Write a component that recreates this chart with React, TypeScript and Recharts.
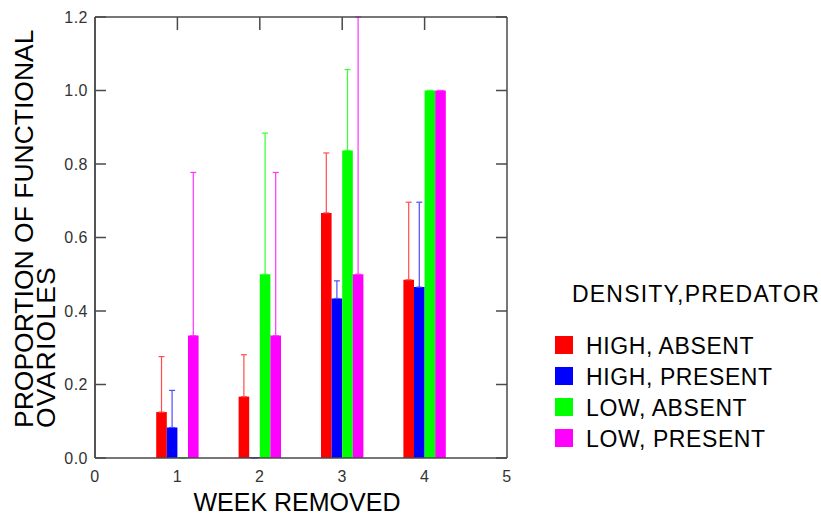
import React from 'react';
import { BarChart, Bar, XAxis, YAxis, ErrorBar, Legend, Label } from 'recharts';

// week removed
const weeks = [1, 2, 3, 4];

// proportion of functional ovarioles per treatment
const highAbsent = [0.125, 0.167, 0.667, 0.485];
const highPresent = [0.083, 0, 0.434, 0.465];
const lowAbsent = [0, 0.5, 0.837, 1.0];
const lowPresent = [0.333, 0.333, 0.5, 1.0];

// upper error (one sided, drawn above the bar)
const highAbsentErr = [0.151, 0.114, 0.163, 0.211];
const highPresentErr = [0.101, 0, 0.048, 0.231];
const lowAbsentErr = [0, 0.384, 0.22, 0];
const lowPresentErr = [0.444, 0.444, 0.7, 0];

const xTicks = [0, 1, 2, 3, 4, 5];
const xInnerTicks = [1, 2, 3, 4];
const yTicks = [0, 0.2, 0.4, 0.6, 0.8, 1.0, 1.2];

const seriesNames = ['HIGH, ABSENT', 'HIGH, PRESENT', 'LOW, ABSENT', 'LOW, PRESENT'];
const seriesColors = ['#ff0000', '#0000ff', '#00ff00', '#ff00ff'];
const errColors = ['#ff4d4d', '#4d4dff', '#33ff33', '#ff33ff'];

const rows = weeks.map((w, i) => ({
  week: w,
  ha: highAbsent[i],
  hp: highPresent[i],
  la: lowAbsent[i],
  lp: lowPresent[i],
  haErr: [0, highAbsentErr[i]],
  hpErr: [0, highPresentErr[i]],
  laErr: [0, lowAbsentErr[i]],
  lpErr: [0, lowPresentErr[i]],
}));

const keys = ['ha', 'hp', 'la', 'lp'];

const FONT = '"Liberation Sans", Arial, sans-serif';
const AXIS = '#4a4a4a';

const LegendBox = (props: any) => {
  const payload = props.payload || [];
  return (
    <svg width={273} height={190} style={{ display: 'block' }}>
      <text x={24} y={32} fontFamily={FONT} fontSize={23} letterSpacing={1.2} fill="#000">
        DENSITY,PREDATOR
      </text>
      {payload.map((p: any, i: number) => (
        <g key={i}>
          <rect x={7} y={66 + i * 31} width={18} height={18} fill={p.color} />
          <text x={38} y={83.5 + i * 31} fontFamily={FONT} fontSize={23} letterSpacing={0.6} fill="#000">
            {p.value}
          </text>
        </g>
      ))}
    </svg>
  );
};

const YTitle = () => (
  <g fontFamily={FONT} fontSize={26.5} fill="#000">
    <text x={33} y={428} transform="rotate(-90, 33, 428)">PROPORTION OF FUNCTIONAL</text>
    <text x={55} y={428} transform="rotate(-90, 55, 428)" letterSpacing={1.2}>OVARIOLES</text>
  </g>
);

const XTitle = () => (
  <text x={297} y={511} textAnchor="middle" fontFamily={FONT} fontSize={25} fill="#000">
    WEEK REMOVED
  </text>
);

const tickFont = { fill: '#333', fontSize: 16, fontFamily: FONT, letterSpacing: 0.5 };
const noLabel = () => <g />;

export default function App() {
  return (
    <div style={{ position: 'absolute', left: 0, top: 0, background: '#fff' }}>
      <BarChart
        width={821}
        height={516}
        data={rows}
        margin={{ top: 17, right: 314, bottom: 28, left: 40 }}
        barGap={0}
        barSize={10.6}
      >
        <XAxis
          dataKey="week"
          type="number"
          domain={[0, 5]}
          ticks={xTicks}
          allowDataOverflow
          height={30}
          tickLine={false}
          tickSize={0}
          tickMargin={13}
          stroke={AXIS}
          strokeWidth={1.5}
          tick={tickFont}
        >
          <Label content={<XTitle />} />
        </XAxis>
        <XAxis
          xAxisId="top"
          orientation="top"
          mirror
          dataKey="week"
          type="number"
          domain={[0, 5]}
          ticks={xInnerTicks}
          allowDataOverflow
          height={1}
          tick={noLabel}
          tickSize={13}
          stroke={AXIS}
          strokeWidth={1.5}
        />
        <YAxis
          type="number"
          domain={[0, 1.2]}
          ticks={yTicks}
          allowDataOverflow
          width={55}
          tickLine={false}
          tickSize={0}
          tickMargin={7}
          tickFormatter={(v: number) => v.toFixed(1)}
          stroke={AXIS}
          strokeWidth={1.5}
          tick={tickFont}
        >
          <Label content={<YTitle />} />
        </YAxis>
        <YAxis
          yAxisId="leftTicks"
          orientation="left"
          mirror
          type="number"
          domain={[0, 1.2]}
          ticks={yTicks}
          allowDataOverflow
          width={1}
          tick={noLabel}
          tickSize={11}
          stroke={AXIS}
          strokeWidth={1.5}
        />
        <YAxis
          yAxisId="right"
          orientation="right"
          mirror
          type="number"
          domain={[0, 1.2]}
          ticks={yTicks}
          allowDataOverflow
          width={1}
          tick={noLabel}
          tickSize={11}
          stroke={AXIS}
          strokeWidth={1.5}
        />
        {keys.map((k, i) => (
          <Bar
            key={k}
            dataKey={k}
            name={seriesNames[i]}
            fill={seriesColors[i]}
            minPointSize={1}
            isAnimationActive={false}
          >
            <ErrorBar dataKey={k + 'Err'} width={3} stroke={errColors[i]} strokeWidth={1.2} direction="y" />
          </Bar>
        ))}
        <Legend
          layout="horizontal"
          align="center"
          verticalAlign="middle"
          content={<LegendBox />}
          wrapperStyle={{ left: 548, top: 270, width: 273, height: 190 }}
        />
      </BarChart>
    </div>
  );
}
